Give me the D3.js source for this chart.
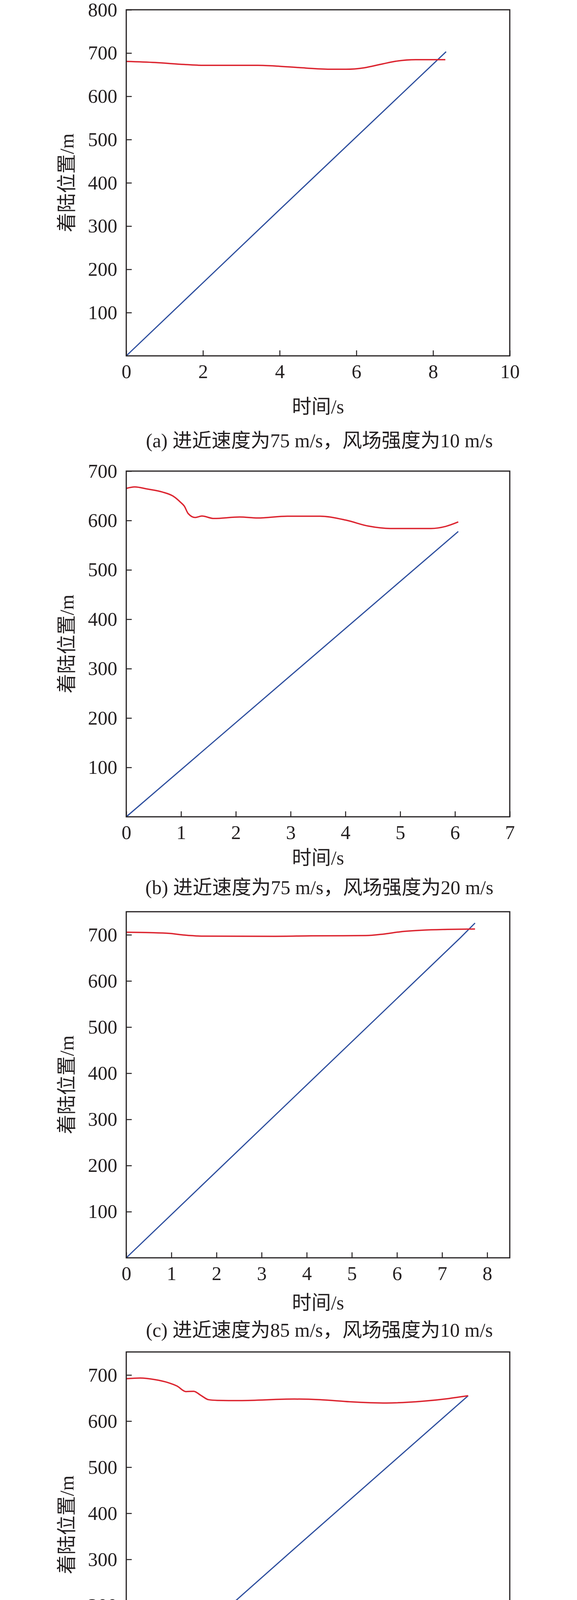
<!DOCTYPE html>
<html>
<head>
<meta charset="utf-8">
<script src="https://cdn.jsdelivr.net/npm/d3@7"></script>
<style>
  body { margin: 0; background: #fff; }
  text { font-family: "Liberation Serif", "Noto Sans CJK SC", serif; fill: #231f20; }
</style>
</head>
<body>
<div id="chart"></div>
<script>
// captions of the four panels
var captions = [
    "(a) 进近速度为75 m/s，风场强度为10 m/s",
    "(b) 进近速度为75 m/s，风场强度为20 m/s",
    "(c) 进近速度为85 m/s，风场强度为10 m/s",
    "(d) 进近速度为85 m/s，风场强度为20 m/s"
];
var seriesNames = ["实时预测着陆位置", "飞机动态飞行位置"];
var xTitle = "时间/s";
var yTitle = "着陆位置/m";

// axis ranges and tick labels
var xMax = [10, 7, 8.5, 7];
var yMax = [800, 700, 750, 750];
var xTicksA = [0, 2, 4, 6, 8, 10];
var xTicksB = [0, 1, 2, 3, 4, 5, 6, 7];
var xTicksC = [0, 1, 2, 3, 4, 5, 6, 7, 8];
var xTicksD = [0, 1, 2, 3, 4, 5, 6, 7];
var yTicksA = [100, 200, 300, 400, 500, 600, 700, 800];
var yTicksB = [100, 200, 300, 400, 500, 600, 700];
var yTicksC = [100, 200, 300, 400, 500, 600, 700];
var yTicksD = [100, 200, 300, 400, 500, 600, 700];

// predicted landing position [t, m]
var predA = [[0, 680.5], [0.75, 678], [1.51, 673.6], [2.0, 671.5], [3.43, 671.5], [4.0, 669.4],
    [4.68, 665.3], [5.35, 662.5], [5.73, 662.5], [6.21, 666], [6.69, 675], [7.03, 681],
    [7.55, 684.6], [8.32, 684.6]];
var predB = [[0, 665], [0.154, 668], [0.39, 663.6], [0.66, 657.6], [0.86, 649], [0.99, 637],
    [1.06, 629], [1.13, 614], [1.26, 606], [1.38, 609], [1.6, 604], [2.07, 607], [2.4, 605],
    [2.94, 608.6], [3.54, 608.6], [4.01, 600.7], [4.42, 588.6], [4.82, 583.8], [5.56, 583.8],
    [5.83, 588], [6.06, 597]];
var predC = [[0, 705.6], [0.52, 704.8], [0.96, 703], [1.29, 699.4], [1.73, 697], [3.27, 696.7],
    [4.1, 697.7], [5.31, 698.3], [5.69, 701.4], [6.07, 706.5], [6.57, 710], [7.12, 711.6],
    [7.73, 712.5]];
var predD = [[0, 692], [0.255, 693.4], [0.52, 690], [0.76, 683.6], [0.93, 675.8], [1.09, 664],
    [1.23, 664.7], [1.36, 656], [1.5, 646.5], [1.66, 645], [2.07, 644.5], [3.07, 647.8],
    [3.54, 646.5], [4.08, 642], [4.75, 639.3], [5.42, 643.2], [5.89, 649], [6.24, 655]];

// aircraft position [t, m]
var flightA = [[0, 0], [4.0, 338], [8.34, 703]];
var flightB = [[0, 0], [3.0, 286], [6.06, 577.7]];
var flightC = [[0, 0], [7.41, 694], [7.73, 725.5]];
var flightD = [[0, 0], [3.0, 316], [6.24, 655]];

var xTicksAll = [xTicksA, xTicksB, xTicksC, xTicksD];
var yTicksAll = [yTicksA, yTicksB, yTicksC, yTicksD];
var predAll = [predA, predB, predC, predD];
var flightAll = [flightA, flightB, flightC, flightD];

// layout
var W = 1476, H = 4646;
var left = 323, right = 1304;
var panelTop = [25, 1206, 2334, 3461];
var panelBottom = [911, 2091, 3220, 4346];
var xTitleOff = [129, 104, 114, 102];
var captionOff = [216, 180, 184, 190];
var red = "#dc2530", blue = "#2d4e9e", ink = "#231f20";
var fs = 50;

var svg = d3.select("#chart").append("svg")
    .attr("width", W)
    .attr("height", H);

captions.forEach(function (cap, i) {
    var top = panelTop[i], bottom = panelBottom[i];
    var x = d3.scaleLinear().domain([0, xMax[i]]).range([left, right]);
    var y = d3.scaleLinear().domain([0, yMax[i]]).range([bottom, top]);
    var g = svg.append("g");

    var xAxis = d3.axisBottom(x).tickValues(xTicksAll[i]).tickSize(-14).tickPadding(21)
        .tickFormat(d3.format("d"));
    var yAxis = d3.axisLeft(y).tickValues(yTicksAll[i]).tickSize(-14).tickPadding(23)
        .tickFormat(d3.format("d"));

    var gx = g.append("g").attr("transform", "translate(0," + bottom + ")").call(xAxis);
    var gy = g.append("g").attr("transform", "translate(" + left + ",0)").call(yAxis);
    [gx, gy].forEach(function (a) {
        a.select(".domain").remove();
        a.selectAll("line").attr("stroke", ink).attr("stroke-width", 2.5);
        a.selectAll("text").attr("font-size", fs).attr("fill", ink)
            .style("font-family", "'Liberation Serif', serif");
    });

    var line = d3.line()
        .x(function (d) { return x(d[0]); })
        .y(function (d) { return y(d[1]); });

    g.append("path").datum(flightAll[i])
        .attr("d", line.curve(d3.curveLinear))
        .attr("fill", "none").attr("stroke", blue).attr("stroke-width", 3);
    g.append("path").datum(predAll[i])
        .attr("d", line.curve(d3.curveMonotoneX))
        .attr("fill", "none").attr("stroke", red).attr("stroke-width", 3.5);

    g.append("rect")
        .attr("x", left).attr("y", top)
        .attr("width", right - left).attr("height", bottom - top)
        .attr("fill", "none").attr("stroke", ink).attr("stroke-width", 3);

    g.append("text")
        .attr("x", (left + right) / 2).attr("y", bottom + xTitleOff[i])
        .attr("dy", "0.35em").attr("text-anchor", "middle")
        .attr("font-size", fs).text(xTitle);

    g.append("text")
        .attr("transform", "translate(170," + (top + bottom) / 2 + ") rotate(-90)")
        .attr("dy", "0.35em").attr("text-anchor", "middle")
        .attr("font-size", fs).text(yTitle);

    g.append("text")
        .attr("x", 817).attr("y", bottom + captionOff[i])
        .attr("dy", "0.35em").attr("text-anchor", "middle")
        .attr("font-size", fs).text(cap);
});

// legend
var legendY = 4615;
var legend = svg.append("g");
var legendItems = [
    { name: seriesNames[0], color: red, x0: 273, x1: 363, tx: 380 },
    { name: seriesNames[1], color: blue, x0: 836, x1: 925, tx: 943 }
];
legendItems.forEach(function (d) {
    legend.append("line")
        .attr("x1", d.x0).attr("x2", d.x1)
        .attr("y1", legendY).attr("y2", legendY)
        .attr("stroke", d.color).attr("stroke-width", 3);
    legend.append("text")
        .attr("x", d.tx).attr("y", legendY)
        .attr("dy", "0.35em").attr("font-size", fs)
        .text(d.name);
});
</script>
</body>
</html>
